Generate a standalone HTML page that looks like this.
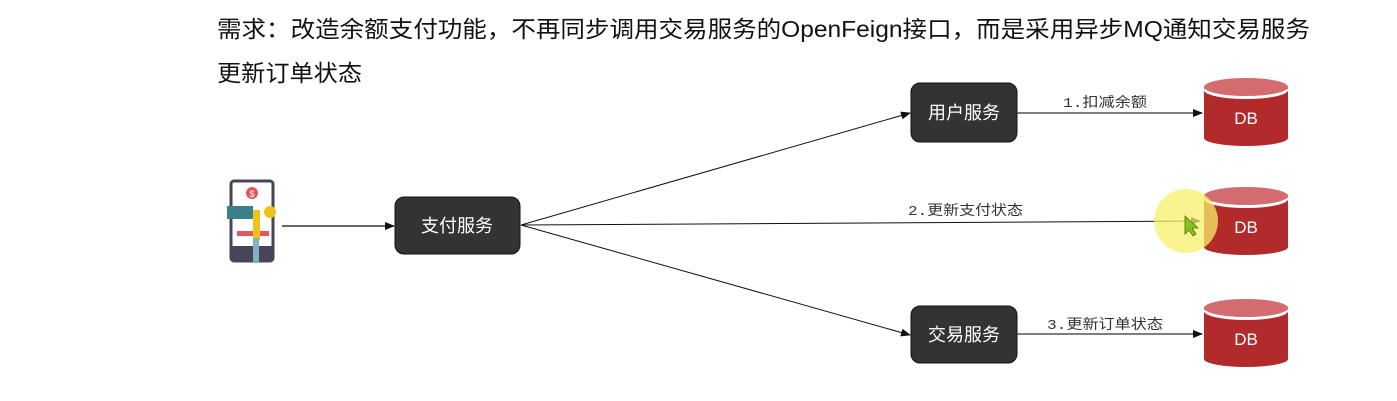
<!DOCTYPE html>
<html><head><meta charset="utf-8"><style>
body{margin:0;width:1397px;height:401px;background:#fff;overflow:hidden;}
svg{display:block}
</style></head><body>
<svg width="1397" height="401" viewBox="0 0 1397 401" xmlns="http://www.w3.org/2000/svg" font-family="Liberation Sans, Noto Sans CJK SC, sans-serif">
<defs>
<marker id="a" markerWidth="10" markerHeight="8" refX="9" refY="4" orient="auto" markerUnits="userSpaceOnUse"><path d="M0,0 L10,4 L0,8 z" fill="#111"/></marker>
<g id="db">
<path d="M0,10 v50 a42,8 0 0 0 84,0 v-50 z" fill="#b22a2a"/>
<ellipse cx="42" cy="12" rx="42" ry="9" fill="#fff"/>
<ellipse cx="42" cy="9" rx="42" ry="9" fill="#d46b6e"/>
<text x="42" y="46" font-size="17" fill="#fff" text-anchor="middle">DB</text>
</g>
</defs>
<text x="217" y="37" font-size="23" fill="#111" textLength="1093" lengthAdjust="spacingAndGlyphs">需求：改造余额支付功能，不再同步调用交易服务的OpenFeign接口，而是采用异步MQ通知交易服务</text>
<text x="217" y="81" font-size="23" fill="#111" textLength="145" lengthAdjust="spacingAndGlyphs">更新订单状态</text>

<rect x="231" y="181" width="42" height="80" rx="3" fill="#fff" stroke="#4a4458" stroke-width="3"/>
<rect x="231" y="246" width="42" height="15" fill="#4a4458"/>
<circle cx="252" cy="193" r="6" fill="#e5555a"/>
<text x="252" y="197" font-size="9" fill="#fff" text-anchor="middle">$</text>
<rect x="227" y="206" width="26" height="13" fill="#3a7f8a"/>
<circle cx="270" cy="212" r="6" fill="#f2c21b"/>
<rect x="237" y="231" width="32" height="5" fill="#e5555a"/>
<rect x="253" y="210" width="7" height="30" fill="#f2c21b"/>
<rect x="253" y="238" width="6" height="25" fill="#7fb2c2"/>

<line x1="282" y1="226" x2="394" y2="226" stroke="#111" stroke-width="1.2" marker-end="url(#a)"/>
<rect x="395" y="197" width="125" height="57" rx="9" fill="#333" stroke="#111"/>
<text x="457" y="232" font-size="18" fill="#fff" text-anchor="middle">支付服务</text>

<line x1="521" y1="225" x2="910" y2="113" stroke="#111" stroke-width="1" marker-end="url(#a)"/>
<line x1="521" y1="225" x2="1200" y2="221" stroke="#111" stroke-width="1" marker-end="url(#a)"/>
<line x1="521" y1="225" x2="910" y2="335" stroke="#111" stroke-width="1" marker-end="url(#a)"/>

<rect x="911" y="83" width="106" height="59" rx="9" fill="#333" stroke="#111"/>
<text x="964" y="119" font-size="18" fill="#fff" text-anchor="middle">用户服务</text>
<rect x="911" y="306" width="106" height="57" rx="9" fill="#333" stroke="#111"/>
<text x="964" y="341" font-size="18" fill="#fff" text-anchor="middle">交易服务</text>

<line x1="1017" y1="113" x2="1202" y2="113" stroke="#333" stroke-width="1.2" marker-end="url(#a)"/>
<text x="1063" y="107" font-size="14" fill="#333" font-family="Liberation Mono, Noto Sans CJK SC, monospace" textLength="84" lengthAdjust="spacingAndGlyphs">1.扣减余额</text>
<text x="908" y="215" font-size="14" fill="#333" font-family="Liberation Mono, Noto Sans CJK SC, monospace" textLength="115" lengthAdjust="spacingAndGlyphs">2.更新支付状态</text>
<line x1="1017" y1="334" x2="1202" y2="334" stroke="#333" stroke-width="1.2" marker-end="url(#a)"/>
<text x="1047" y="329" font-size="14" fill="#333" font-family="Liberation Mono, Noto Sans CJK SC, monospace" textLength="116" lengthAdjust="spacingAndGlyphs">3.更新订单状态</text>

<use href="#db" x="1204" y="78"/>
<use href="#db" x="1204" y="187"/>
<use href="#db" x="1204" y="299"/>
<circle cx="1186" cy="221" r="32" fill="#f5f06a" opacity="0.75"/>
<path d="M1185,216 l0,18 l4,-4 l4,6 l3,-2 l-4,-6 l6,0 z" fill="#8ac21e" stroke="#556b10" stroke-width="0.8"/>
</svg>
</body></html>
